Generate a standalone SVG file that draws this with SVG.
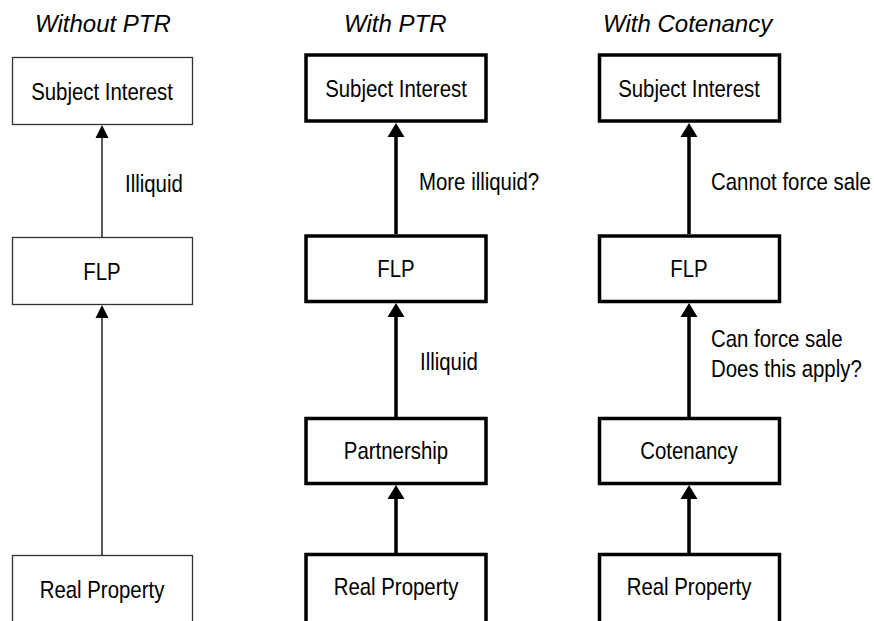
<svg xmlns="http://www.w3.org/2000/svg" width="874" height="621" viewBox="0 0 874 621">
<style>
.thin{fill:#fff;stroke:#333;stroke-width:1.3}
.thick{fill:#fff;stroke:#000;stroke-width:3.5}
.lbl{font-family:"Liberation Sans",Arial,sans-serif;font-size:24px;fill:#000}
.c{text-anchor:middle}
.title{font-family:"Liberation Sans",Arial,sans-serif;font-size:24px;font-style:italic;fill:#000}
.lt{stroke:#000;stroke-width:1.3;fill:none}
.lk{stroke:#000;stroke-width:3.5;fill:none}
.ah{fill:#000}
</style>
<rect width="874" height="621" fill="#fff"/>
<g id="titles">
<text class="title" x="35" y="32">Without PTR</text>
<text class="title" x="344" y="32">With PTR</text>
<text class="title" x="603" y="32">With Cotenancy</text>
</g>
<g id="connectors">
<line class="lt" x1="102" y1="555" x2="102" y2="316"/>
<polygon class="ah" points="102,305 95.5,318 108.5,318"/>
<line class="lt" x1="102" y1="237" x2="102" y2="136"/>
<polygon class="ah" points="102,125 95.5,138 108.5,138"/>
<line class="lk" x1="396" y1="553" x2="396" y2="496"/>
<polygon class="ah" points="396,485 387.5,499 404.5,499"/>
<line class="lk" x1="396" y1="417" x2="396" y2="314"/>
<polygon class="ah" points="396,303 387.5,317 404.5,317"/>
<line class="lk" x1="396" y1="234" x2="396" y2="134"/>
<polygon class="ah" points="396,123 387.5,137 404.5,137"/>
<line class="lk" x1="689" y1="553" x2="689" y2="496"/>
<polygon class="ah" points="689,485 680.5,499 697.5,499"/>
<line class="lk" x1="689" y1="417" x2="689" y2="314"/>
<polygon class="ah" points="689,303 680.5,317 697.5,317"/>
<line class="lk" x1="689" y1="234" x2="689" y2="134"/>
<polygon class="ah" points="689,123 680.5,137 697.5,137"/>
<text class="lbl" transform="translate(125 192) scale(0.85 1)">Illiquid</text>
<text class="lbl" transform="translate(419 190) scale(0.85 1)">More illiquid?</text>
<text class="lbl" transform="translate(420 370) scale(0.85 1)">Illiquid</text>
<text class="lbl" transform="translate(711 190) scale(0.85 1)">Cannot force sale</text>
<text class="lbl" transform="translate(711 347) scale(0.85 1)">Can force sale</text>
<text class="lbl" transform="translate(711 377) scale(0.85 1)">Does this apply?</text>
</g>
<g id="c1-subject"><rect class="thin" x="12.5" y="57.5" width="180" height="67"/><text class="lbl c" transform="translate(102 100) scale(0.85 1)">Subject Interest</text></g>
<g id="c1-flp"><rect class="thin" x="12.5" y="237.5" width="180" height="67"/><text class="lbl c" transform="translate(102 280) scale(0.85 1)">FLP</text></g>
<g id="c1-real"><rect class="thin" x="12.5" y="555.5" width="180" height="80"/><text class="lbl c" transform="translate(102 598) scale(0.85 1)">Real Property</text></g>
<g id="c2-subject"><rect class="thick" x="306" y="55" width="180" height="66"/><text class="lbl c" transform="translate(396 97) scale(0.85 1)">Subject Interest</text></g>
<g id="c2-flp"><rect class="thick" x="306" y="236" width="180" height="65.5"/><text class="lbl c" transform="translate(396 277) scale(0.85 1)">FLP</text></g>
<g id="c2-partnership"><rect class="thick" x="306" y="418.5" width="180" height="65"/><text class="lbl c" transform="translate(396 459) scale(0.85 1)">Partnership</text></g>
<g id="c2-real"><rect class="thick" x="306" y="554.5" width="180" height="80"/><text class="lbl c" transform="translate(396 595) scale(0.85 1)">Real Property</text></g>
<g id="c3-subject"><rect class="thick" x="599.5" y="55" width="180" height="66"/><text class="lbl c" transform="translate(689 97) scale(0.85 1)">Subject Interest</text></g>
<g id="c3-flp"><rect class="thick" x="599.5" y="236" width="180" height="65.5"/><text class="lbl c" transform="translate(689 277) scale(0.85 1)">FLP</text></g>
<g id="c3-cotenancy"><rect class="thick" x="599.5" y="418.5" width="180" height="65"/><text class="lbl c" transform="translate(689 459) scale(0.85 1)">Cotenancy</text></g>
<g id="c3-real"><rect class="thick" x="599.5" y="554.5" width="180" height="80"/><text class="lbl c" transform="translate(689 595) scale(0.85 1)">Real Property</text></g>
</svg>
